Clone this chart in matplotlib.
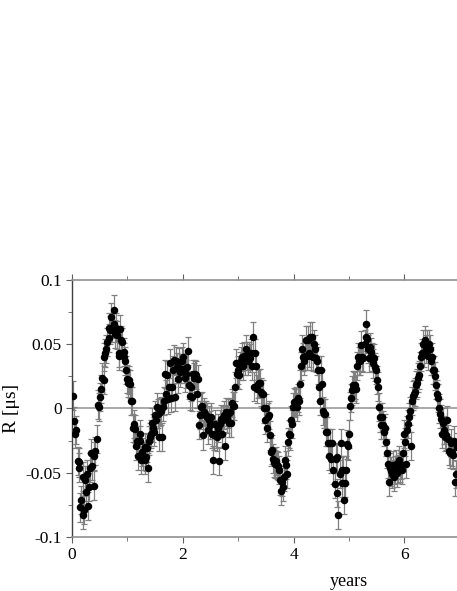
# Residuals R in microseconds plotted against time in years
import matplotlib
matplotlib.use('Agg')
import matplotlib.pyplot as plt

#-----DATA---------------------------------------------------------------------#
years = [
    0.01, 0.04, 0.05, 0.08, 0.10, 0.12, 0.13, 0.14, 0.17, 0.19, 0.20, 0.22, 0.23, 0.25, 0.27, 0.29,
    0.31, 0.33, 0.35, 0.37, 0.39, 0.40, 0.42, 0.45, 0.47, 0.49, 0.51, 0.53, 0.55, 0.57, 0.58, 0.60,
    0.62, 0.64, 0.66, 0.67, 0.69, 0.71, 0.73, 0.75, 0.76, 0.78, 0.80, 0.82, 0.84, 0.85, 0.87, 0.89,
    0.91, 0.93, 0.94, 0.96, 0.98, 1.00, 1.02, 1.03, 1.05, 1.07, 1.09, 1.11, 1.12, 1.14, 1.16, 1.18,
    1.20, 1.22, 1.23, 1.25, 1.27, 1.29, 1.31, 1.32, 1.34, 1.36, 1.37, 1.39, 1.41, 1.43, 1.44, 1.46,
    1.48, 1.50, 1.52, 1.53, 1.55, 1.57, 1.59, 1.61, 1.62, 1.64, 1.66, 1.68, 1.70, 1.71, 1.73, 1.75,
    1.77, 1.79, 1.80, 1.82, 1.84, 1.86, 1.88, 1.89, 1.91, 1.93, 1.95, 1.97, 1.99, 2.00, 2.02, 2.04,
    2.06, 2.08, 2.09, 2.11, 2.13, 2.15, 2.17, 2.18, 2.20, 2.22, 2.24, 2.26, 2.27, 2.29, 2.31, 2.33,
    2.35, 2.36, 2.38, 2.40, 2.42, 2.44, 2.45, 2.47, 2.49, 2.51, 2.53, 2.55, 2.56, 2.58, 2.60, 2.62,
    2.64, 2.65, 2.67, 2.69, 2.71, 2.73, 2.74, 2.76, 2.78, 2.80, 2.82, 2.83, 2.85, 2.87, 2.89, 2.91,
    2.92, 2.94, 2.96, 2.98, 3.00, 3.01, 3.03, 3.05, 3.07, 3.09, 3.10, 3.12, 3.14, 3.16, 3.18, 3.20,
    3.21, 3.23, 3.25, 3.27, 3.29, 3.30, 3.32, 3.34, 3.36, 3.38, 3.40, 3.41, 3.43, 3.45, 3.47, 3.49,
    3.50, 3.52, 3.54, 3.56, 3.58, 3.60, 3.61, 3.63, 3.65, 3.67, 3.69, 3.70, 3.72, 3.74, 3.76, 3.77,
    3.79, 3.81, 3.83, 3.84, 3.86, 3.88, 3.90, 3.92, 3.94, 3.95, 3.97, 3.99, 4.01, 4.03, 4.04, 4.06,
    4.08, 4.10, 4.12, 4.13, 4.15, 4.17, 4.19, 4.21, 4.22, 4.24, 4.26, 4.28, 4.30, 4.32, 4.33, 4.35,
    4.37, 4.39, 4.41, 4.42, 4.44, 4.46, 4.48, 4.50, 4.51, 4.53, 4.55, 4.57, 4.59, 4.60, 4.62, 4.64,
    4.66, 4.68, 4.70, 4.72, 4.74, 4.76, 4.78, 4.79, 4.81, 4.83, 4.85, 4.87, 4.88, 4.89, 4.91, 4.93,
    4.95, 4.96, 4.98, 5.00, 5.02, 5.03, 5.05, 5.07, 5.09, 5.11, 5.12, 5.14, 5.16, 5.18, 5.20, 5.22,
    5.24, 5.26, 5.28, 5.30, 5.31, 5.33, 5.35, 5.37, 5.38, 5.40, 5.42, 5.44, 5.46, 5.47, 5.49, 5.51,
    5.53, 5.54, 5.56, 5.58, 5.60, 5.62, 5.63, 5.65, 5.67, 5.69, 5.71, 5.72, 5.74, 5.76, 5.78, 5.79,
    5.81, 5.83, 5.85, 5.87, 5.88, 5.90, 5.92, 5.94, 5.96, 5.97, 5.99, 6.01, 6.03, 6.05, 6.07, 6.08,
    6.10, 6.12, 6.13, 6.16, 6.18, 6.20, 6.21, 6.23, 6.25, 6.26, 6.28, 6.30, 6.32, 6.33, 6.36, 6.37,
    6.39, 6.41, 6.43, 6.45, 6.46, 6.48, 6.50, 6.52, 6.54, 6.55, 6.57, 6.59, 6.61, 6.62, 6.64, 6.66,
    6.68, 6.70, 6.71, 6.73, 6.75, 6.77, 6.79, 6.80, 6.82, 6.84, 6.86, 6.88, 6.90, 6.91, 6.93, 6.95,
]
residuals = [
    0.010, -0.010, -0.020, -0.017, -0.041, -0.042, -0.046, -0.077, -0.071, -0.053, -0.083, -0.079, -0.056, -0.065, -0.051, -0.076,
    -0.061, -0.046, -0.035, -0.045, -0.060, -0.037, -0.033, -0.024, 0.003, 0.001, 0.009, 0.015, 0.024, 0.022, 0.040, 0.043,
    0.046, 0.052, 0.055, 0.063, 0.061, 0.071, 0.063, 0.077, 0.066, 0.058, 0.063, 0.057, 0.041, 0.043, 0.062, 0.053,
    0.052, 0.044, 0.040, 0.037, 0.030, 0.023, 0.020, 0.022, 0.019, 0.006, 0.006, -0.015, -0.012, -0.016, -0.029, -0.025,
    -0.037, -0.020, -0.025, -0.040, -0.034, -0.037, -0.030, -0.040, -0.038, -0.031, -0.046, -0.025, -0.022, -0.020, -0.011, -0.015,
    -0.018, -0.005, -0.009, 0.001, -0.004, -0.022, -0.003, -0.002, -0.022, 0.001, 0.006, 0.027, 0.011, 0.026, 0.007, 0.017,
    0.035, 0.008, 0.017, 0.030, 0.038, 0.009, 0.037, 0.032, 0.023, 0.036, 0.028, 0.031, 0.037, 0.040, 0.031, 0.024,
    0.027, 0.032, 0.045, 0.018, 0.010, 0.017, 0.009, 0.027, 0.024, 0.027, 0.026, 0.011, 0.023, -0.013, -0.005, 0.001,
    0.002, -0.021, -0.003, -0.005, -0.005, -0.007, -0.017, -0.009, -0.013, -0.007, -0.020, -0.040, -0.021, -0.012, -0.020, -0.022,
    -0.015, -0.041, -0.012, -0.008, -0.020, -0.009, -0.005, -0.029, -0.003, -0.008, -0.004, -0.011, -0.003, -0.011, 0.004, 0.002,
    0.002, 0.017, 0.035, 0.027, 0.030, 0.026, 0.033, 0.037, 0.040, 0.033, 0.041, 0.037, 0.046, 0.041, 0.037, 0.041,
    0.039, 0.043, 0.033, 0.056, 0.017, 0.043, 0.033, 0.015, 0.019, 0.020, 0.020, 0.013, 0.011, 0.011, 0.000, -0.009,
    0.000, -0.015, -0.007, -0.005, -0.021, -0.034, -0.032, -0.039, -0.042, -0.043, -0.041, -0.044, -0.045, -0.048, -0.056, -0.064,
    -0.057, -0.061, -0.053, -0.040, -0.044, -0.051, -0.026, -0.020, -0.021, -0.009, -0.012, 0.001, 0.005, 0.004, 0.006, 0.001,
    0.008, 0.006, 0.019, 0.033, 0.046, 0.040, 0.037, 0.041, 0.053, 0.041, 0.053, 0.043, 0.056, 0.041, 0.056, 0.040,
    0.050, 0.046, 0.039, 0.037, 0.030, 0.017, 0.006, 0.030, 0.019, -0.002, -0.004, -0.004, -0.018, -0.018, -0.027, -0.037,
    -0.027, -0.039, -0.027, -0.048, -0.059, -0.039, -0.066, -0.038, -0.083, -0.051, -0.027, -0.048, -0.058, -0.048, -0.071, -0.058,
    -0.048, -0.028, -0.029, -0.020, 0.002, 0.008, 0.014, 0.018, 0.017, 0.018, 0.015, 0.033, 0.040, 0.037, 0.037, 0.049,
    0.040, 0.039, 0.050, 0.056, 0.066, 0.054, 0.046, 0.039, 0.048, 0.044, 0.040, 0.035, 0.039, 0.032, 0.030, 0.022,
    0.017, 0.001, -0.007, -0.013, -0.007, -0.013, -0.018, -0.015, -0.026, -0.035, -0.043, -0.057, -0.046, -0.049, -0.051, -0.044,
    -0.053, -0.048, -0.043, -0.050, -0.047, -0.040, -0.046, -0.044, -0.048, -0.035, -0.020, -0.026, -0.043, -0.017, -0.012, -0.007,
    -0.002, -0.029, 0.006, 0.010, 0.011, 0.013, 0.018, 0.020, 0.024, 0.026, 0.033, 0.040, 0.043, 0.050, 0.043, 0.053,
    0.046, 0.050, 0.041, 0.050, 0.046, 0.037, 0.040, 0.030, 0.030, 0.025, 0.018, 0.011, 0.008, 0.000, -0.004, -0.008,
    -0.020, -0.011, -0.017, -0.022, -0.021, -0.009, -0.024, -0.033, -0.035, -0.027, -0.034, -0.036, -0.025, -0.057, -0.051, -0.030,
]
err = 0.011         # typical size of the error bars [us]
xticks = [0, 2, 4, 6]
xminor = [1, 3, 5, 7, 8, 9]
yticks = [-0.1, -0.05, 0, 0.05, 0.1]
yticklabels = ['-0.1', '-0.05', '0', '0.05', '0.1']
yminor = [-0.075, -0.025, 0.025, 0.075]

#-----FIGURE-------------------------------------------------------------------#
plt.rcParams['font.family'] = ['Liberation Serif', 'DejaVu Serif']
fig = plt.figure(figsize=(4.57, 5.91), dpi=100)
# Axes run past the right edge of the picture (original panel is cropped)
ax = fig.add_axes([0.1575, 0.0914, 1.2123, 0.4349])

ax.axhline(0, color='#999999', lw=1.2, zorder=1)
ax.errorbar(years, residuals, yerr=err, fmt='none', ecolor='#808080',
            elinewidth=0.9, capsize=2.5, capthick=0.9, zorder=2)
ax.plot(years, residuals, 'o', color='black', ms=4.4, zorder=3)

ax.set_xlim(0, 10)
ax.set_ylim(-0.1, 0.1)
ax.set_xticks(xticks)
ax.set_xticks(xminor, minor=True)
ax.set_yticks(yticks)
ax.set_yticklabels(yticklabels)
ax.set_yticks(yminor, minor=True)

ax.spines['right'].set_visible(False)
for side in ['top', 'bottom']:
    ax.spines[side].set_color('#909090')
    ax.spines[side].set_linewidth(1.2)
ax.spines['left'].set_color('#404040')
ax.spines['left'].set_linewidth(1.0)
ax.tick_params(which='both', direction='out', top=True, colors='#606060',
               labelcolor='black', labelsize=12.5)
ax.tick_params(which='major', length=4)
ax.tick_params(which='minor', length=3)
ax.tick_params(axis='x', which='both', labeltop=False)

ax.set_xlabel('years', fontsize=13, labelpad=7)
ax.set_ylabel('R [μs]', fontsize=14, labelpad=4)

fig.savefig('out.png', dpi=100)
